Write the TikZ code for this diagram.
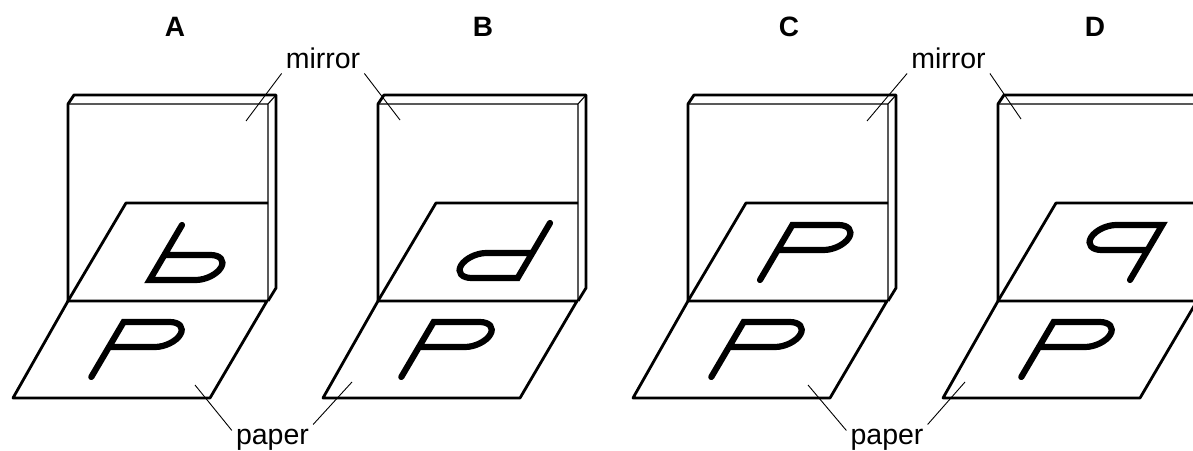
\documentclass[tikz,border=0pt]{standalone}
\usepackage{fontspec}
\setmainfont{Liberation Sans}

\tikzset{
	pee/.pic={\draw[letter] (0,0) -- (0,55) -- (46,55) arc[start angle=90, end angle=-90, x radius=18, y radius=12.5] -- (0,30);}
}

\begin{document}
\begin{tikzpicture}[x=1pt, y=1pt,
	outline/.style={line width=2.8pt, line join=round},
	fineline/.style={line width=1.1pt},
	letter/.style={line width=6.2pt, line cap=round},
	leader/.style={line width=0.9pt},
	lbl/.style={font=\fontsize{28.5}{34}\selectfont, inner sep=4pt},
	head/.style={font=\fontsize{28}{34}\selectfont\bfseries}]
\useasboundingbox (0,0) rectangle (1193,450);
\clip (0,0) rectangle (1193,450);

\foreach \x in {68,378,688,998}{
	\begin{scope}[shift={(\x,0)}]
	\draw[outline] (0,149) -- (199,149) -- (142,52) -- (-55,52) -- cycle;
	\draw[outline] (0,149) -- (0,346) -- (6,355) -- (208,355) -- (208,162) -- (200,149);
	\draw[fineline] (0,346) -- (200,346) -- (208,355) (200,346) -- (200,149);
	\draw[outline] (0,149) -- (58,247) -- (200,247);
	\pic[shift={(23.3,73)}, xslant=0.588] {pee};
	\end{scope}
}

% images in the mirrors
\pic[shift={(182,225)}, xslant=0.588, yscale=-1] {pee};
\pic[shift={(550,227)}, xslant=0.588, xscale=-1, yscale=-1] {pee};
\pic[shift={(760,170)}, xslant=0.588] {pee};
\pic[shift={(1130,170)}, xslant=0.588, xscale=-1] {pee};

\node[head, anchor=base] (labA) at (175,413) {A};
\node[head, anchor=base] (labB) at (483,413) {B};
\node[head, anchor=base] (labC) at (789,413) {C};
\node[head, anchor=base] (labD) at (1095,413) {D};

\node[lbl, anchor=base] (mirAB) at (323,381) {mirror};
\node[lbl, anchor=base] (mirCD) at (948.5,381) {mirror};
\node[lbl, anchor=base] (papAB) at (272.5,6) {paper};
\node[lbl, anchor=base] (papCD) at (887,6) {paper};

\coordinate (mirA) at (246,329);
\coordinate (mirB) at (400,330);
\coordinate (mirC) at (867,329);
\coordinate (mirD) at (1021,331);
\coordinate (papA) at (195,65);
\coordinate (papB) at (352,68);
\coordinate (papC) at (808,65);
\coordinate (papD) at (965,68);

\draw[leader] (mirAB.south west) -- (mirA);
\draw[leader] (mirAB.south east) -- (mirB);
\draw[leader] (mirCD.south west) -- (mirC);
\draw[leader] (mirCD.south east) -- (mirD);
\draw[leader] ([yshift=-6pt]papAB.north west) -- (papA);
\draw[leader] (papAB.north east) -- (papB);
\draw[leader] ([yshift=-6pt]papCD.north west) -- (papC);
\draw[leader] (papCD.north east) -- (papD);
\end{tikzpicture}
\end{document}
